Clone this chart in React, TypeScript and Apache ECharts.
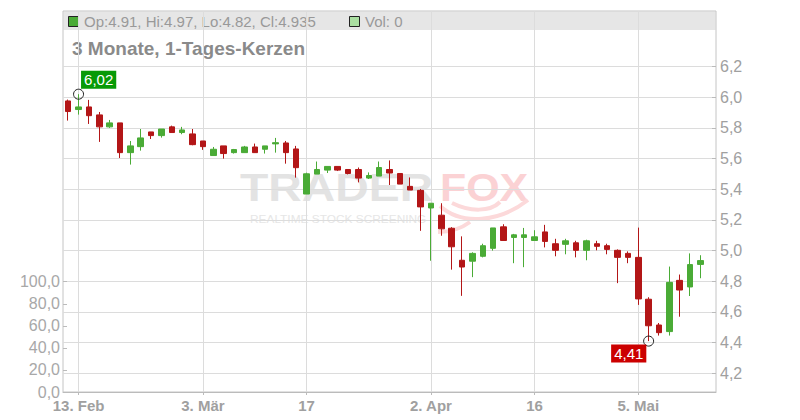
import React, { useEffect, useRef } from "react";
import * as echarts from "echarts";

// 2025 trading days, the last slot stays empty
const categories = [
  "12.02.", "13.02.", "14.02.", "17.02.", "18.02.", "19.02.", "20.02.", "21.02.", "24.02.", "25.02.", "26.02.", "27.02.", "28.02.",
  "03.03.", "04.03.", "05.03.", "06.03.", "07.03.", "10.03.", "11.03.", "12.03.", "13.03.", "14.03.", "17.03.", "18.03.", "19.03.",
  "20.03.", "21.03.", "24.03.", "25.03.", "26.03.", "27.03.", "28.03.", "31.03.", "01.04.", "02.04.", "03.04.", "04.04.", "07.04.",
  "08.04.", "09.04.", "10.04.", "11.04.", "14.04.", "15.04.", "16.04.", "17.04.", "22.04.", "23.04.", "24.04.", "25.04.", "28.04.",
  "29.04.", "30.04.", "02.05.", "05.05.", "06.05.", "07.05.", "08.05.", "09.05.", "12.05.", "13.05.", "14.05."
];

const opens = [
  5.976, 5.92, 5.937, 5.885, 5.807, 5.833, 5.639, 5.678, 5.774, 5.75, 5.807, 5.77, 5.761,
  5.715, 5.62, 5.683, 5.639, 5.639, 5.676, 5.661, 5.696, 5.702, 5.663, 5.369, 5.499, 5.525,
  5.549, 5.529, 5.529, 5.473, 5.486, 5.529, 5.503, 5.419, 5.393, 5.278, 5.231, 5.146, 4.937,
  4.931, 4.963, 5.015, 5.155, 5.086, 5.086, 5.066, 5.122, 5.045, 5.041, 5.051, 5.002, 5.045,
  5.032, 5.002, 4.982, 4.956, 4.683, 4.515, 4.472, 4.806, 4.763, 4.91
];
const closes = [
  5.907, 5.937, 5.88, 5.807, 5.833, 5.639, 5.683, 5.735, 5.75, 5.793, 5.77, 5.787, 5.691,
  5.678, 5.661, 5.633, 5.659, 5.676, 5.639, 5.683, 5.704, 5.639, 5.541, 5.501, 5.529, 5.549,
  5.525, 5.503, 5.473, 5.49, 5.542, 5.506, 5.434, 5.395, 5.285, 5.309, 5.142, 5.025, 4.893,
  4.982, 5.032, 5.148, 5.066, 5.103, 5.103, 5.09, 5.06, 5.002, 5.064, 5.002, 5.064, 5.028,
  5.008, 4.956, 4.956, 4.685, 4.51, 4.465, 4.793, 4.743, 4.909, 4.935
];
const lows = [
  5.848, 5.887, 5.826, 5.709, 5.8, 5.604, 5.561, 5.652, 5.728, 5.737, 5.77, 5.759, 5.687,
  5.657, 5.62, 5.6, 5.633, 5.639, 5.639, 5.633, 5.639, 5.567, 5.476, 5.369, 5.499, 5.506,
  5.519, 5.497, 5.445, 5.467, 5.486, 5.428, 5.434, 5.395, 5.129, 4.934, 5.097, 4.876, 4.705,
  4.827, 4.956, 5.0, 5.066, 4.918, 4.892, 5.066, 5.021, 4.963, 4.976, 4.956, 4.937, 5.002,
  4.976, 4.788, 4.918, 4.646, 4.41, 4.446, 4.446, 4.569, 4.704, 4.82
];
const highs = [
  5.985, 6.02, 5.983, 5.904, 5.852, 5.833, 5.715, 5.793, 5.774, 5.793, 5.815, 5.807, 5.793,
  5.715, 5.676, 5.683, 5.663, 5.683, 5.698, 5.683, 5.735, 5.715, 5.683, 5.508, 5.581, 5.549,
  5.549, 5.529, 5.542, 5.51, 5.581, 5.588, 5.503, 5.477, 5.402, 5.309, 5.309, 5.153, 5.093,
  4.989, 5.045, 5.148, 5.172, 5.109, 5.148, 5.133, 5.168, 5.077, 5.077, 5.064, 5.071, 5.064,
  5.045, 5.008, 4.995, 5.15, 4.696, 4.528, 4.896, 4.844, 4.982, 4.97
];
const lastVolume = 0;

const tickLabels: Record<number, string> = {
  1: "13. Feb",
  13: "3. Mär",
  23: "17",
  35: "2. Apr",
  45: "16",
  55: "5. Mai",
};

const UP = "#4aab36";
const DOWN = "#b31617";
const FONT = "Liberation Sans, Arial, sans-serif";

const isTick = (i: number) => tickLabels[i] !== undefined;
const comma = (v: number, d: number) => v.toFixed(d).replace(".", ",");

const App: React.FC = () => {
  const chartRef = useRef<HTMLDivElement>(null);

  useEffect(() => {
    if (!chartRef.current) return;
    const chart = echarts.init(chartRef.current, undefined, { renderer: "svg" });

    const candles = opens.map((o, i) => [o, closes[i], lows[i], highs[i]]);
    const hiVal = Math.max(...highs);
    const hiIdx = highs.indexOf(hiVal);
    const loVal = Math.min(...lows);
    const loIdx = lows.indexOf(loVal);
    const last = opens.length - 1;
    const headerText =
      "Op:" + opens[last] + ", Hi:" + highs[last] + ", Lo:" + lows[last] + ", Cl:" + closes[last];

    const gridBox = { left: 63, right: 84 };
    const tail = { stroke: "#fcd9da", lineWidth: 4, fill: "none" };

    const option = {
      animation: false,
      grid: [
        { ...gridBox, top: 11, bottom: 28, show: true, borderColor: "#c4c4c4", borderWidth: 1 },
        { ...gridBox, top: 281.7, bottom: 28 },
        { ...gridBox, top: 66.6, bottom: 46.7 },
      ],
      xAxis: [
        {
          type: "category",
          gridIndex: 0,
          data: categories,
          boundaryGap: true,
          axisLine: { lineStyle: { color: "#bbbbbb" } },
          axisTick: {
            show: true,
            alignWithLabel: true,
            interval: (i: number) => isTick(i),
            length: 3,
            lineStyle: { color: "#bbbbbb" },
          },
          axisLabel: {
            interval: (i: number) => isTick(i),
            formatter: (_v: string, i: number) => tickLabels[i] || "",
            fontFamily: FONT,
            fontWeight: "bold",
            fontSize: 15,
            color: "#a0a0a0",
            margin: 6,
          },
          splitLine: {
            show: true,
            alignWithLabel: true,
            interval: (i: number) => isTick(i),
            lineStyle: { color: "#dcdcdc" },
          },
        },
        { type: "category", gridIndex: 1, data: categories, show: false },
        { type: "category", gridIndex: 2, data: categories, show: false },
      ],
      yAxis: [
        { type: "value", gridIndex: 0, show: false, splitLine: { show: false } },
        {
          type: "value",
          gridIndex: 1,
          position: "left",
          min: 0,
          max: 100,
          interval: 20,
          axisLine: { show: false },
          axisTick: { show: true, inside: true, length: 4, lineStyle: { color: "#bbbbbb" } },
          axisLabel: {
            formatter: (v: number) => comma(v, 1),
            fontFamily: FONT,
            fontSize: 16,
            color: "#a8a8a8",
            margin: 3,
          },
          splitLine: { show: false },
        },
        {
          type: "value",
          gridIndex: 2,
          position: "right",
          min: 4.2,
          max: 6.2,
          interval: 0.2,
          axisLine: { show: false },
          axisTick: { show: true, inside: true, length: 4, lineStyle: { color: "#bbbbbb" } },
          axisLabel: {
            formatter: (v: number) => comma(v, 1),
            fontFamily: FONT,
            fontSize: 16,
            color: "#a0a0a0",
            margin: 4,
          },
          splitLine: { show: true, lineStyle: { color: "#dcdcdc" } },
        },
      ],
      graphic: [
        { type: "rect", z: -1, shape: { x: 63.5, y: 11.5, width: 652, height: 18.5 }, style: { fill: "#e6e6e6" } },
        { type: "rect", shape: { x: 68.5, y: 16.5, width: 10, height: 10 }, style: { fill: UP, stroke: "#222", lineWidth: 1 } },
        {
          type: "text",
          x: 84,
          y: 21.5,
          style: { text: headerText, fill: "#999999", font: "15px " + FONT, verticalAlign: "middle" },
        },
        { type: "rect", shape: { x: 349.5, y: 16.5, width: 10, height: 10 }, style: { fill: "#aadfa1", stroke: "#222", lineWidth: 1 } },
        {
          type: "text",
          x: 365,
          y: 21.5,
          style: { text: "Vol: " + lastVolume, fill: "#999999", font: "15px " + FONT, verticalAlign: "middle" },
        },
        {
          type: "text",
          x: 72,
          y: 48,
          style: { text: "3 Monate, 1-Tages-Kerzen", fill: "#8a8a8a", font: "bold 19px " + FONT, verticalAlign: "middle" },
        },
        // watermark
        {
          type: "text",
          z: -1,
          x: 240,
          y: 188,
          scaleX: 1.22,
          style: { text: "TRADER", fill: "#e3e3e3", font: "bold 38px " + FONT, verticalAlign: "middle" },
        },
        {
          type: "text",
          z: -1,
          x: 440,
          y: 188,
          scaleX: 1.13,
          style: { text: "FOX", fill: "#fbd2d4", font: "bold 38px " + FONT, verticalAlign: "middle" },
        },
        { type: "bezierCurve", z: -1, shape: { x1: 440, y1: 206, cpx1: 462, cpy1: 226, cpx2: 500, cpy2: 222, x2: 528, y2: 200 }, style: tail },
        { type: "bezierCurve", z: -1, shape: { x1: 452, y1: 203, cpx1: 470, cpy1: 212, cpx2: 490, cpy2: 212, x2: 500, y2: 202 }, style: tail },
        { type: "bezierCurve", z: -1, shape: { x1: 470, y1: 222, cpx1: 462, cpy1: 228, cpx2: 450, cpy2: 232, x2: 438, y2: 232 }, style: tail },
        {
          type: "text",
          z: -1,
          x: 250,
          y: 219,
          scaleX: 1.08,
          style: { text: "REALTIME STOCK SCREENING", fill: "#e6e6e6", font: "11px " + FONT, verticalAlign: "middle" },
        },
      ],
      series: [
        {
          type: "candlestick",
          xAxisIndex: 2,
          yAxisIndex: 2,
          data: candles,
          barWidth: 6,
          itemStyle: {
            color: UP,
            color0: DOWN,
            borderColor: UP,
            borderColor0: DOWN,
            borderWidth: 1,
          },
        },
        {
          type: "scatter",
          xAxisIndex: 2,
          yAxisIndex: 2,
          z: 5,
          symbol: "circle",
          symbolSize: 10,
          itemStyle: { color: "rgba(255,255,255,0)", borderColor: "#222", borderWidth: 1, opacity: 1 },
          label: {
            show: true,
            formatter: (p: any) => comma(p.value[1], 2),
            color: "#ffffff",
            fontFamily: FONT,
            fontSize: 15,
            lineHeight: 16,
            padding: [1, 3],
            align: "left",
            verticalAlign: "top",
          },
          data: [
            { value: [hiIdx, hiVal], label: { position: [8, -18], backgroundColor: "#079a07" } },
            { value: [loIdx, loVal], label: { position: [-32, 9], backgroundColor: "#cc0000" } },
          ],
        },
      ],
    };

    chart.setOption(option);
    return () => {
      chart.dispose();
    };
  }, []);

  return (
    <div
      ref={chartRef}
      style={{ position: "fixed", left: 0, top: 0, width: 800, height: 420, background: "#fff" }}
    />
  );
};

export default App;
